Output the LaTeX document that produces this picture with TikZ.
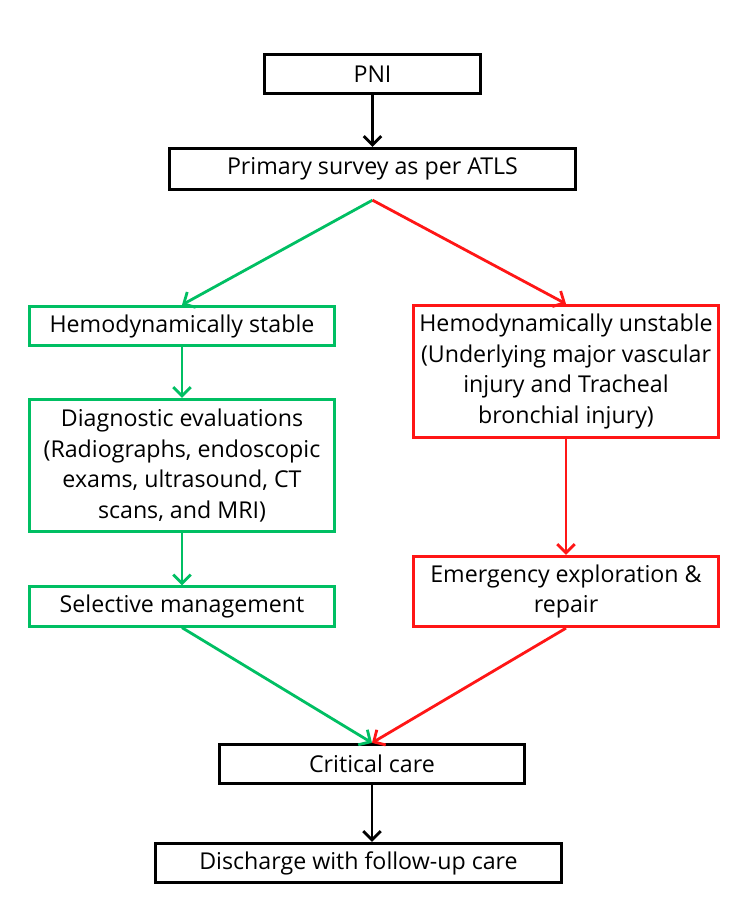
\documentclass[tikz,border=0pt]{standalone}
\usepackage{fontspec}
\setmainfont{Open Sans}
\usetikzlibrary{arrows.meta}
\definecolor{stablegreen}{HTML}{00BF63}
\definecolor{unstablered}{HTML}{FF1616}

\begin{document}
\begin{tikzpicture}[x=0.02cm, y=-0.02cm, font=\fontsize{13.2}{17.4}\selectfont,
    box/.style={draw, line width=1.6pt, align=center, inner sep=2pt, minimum width=6.11cm, minimum height=0.79cm},
    greenbox/.style={box, draw=stablegreen},
    redbox/.style={box, draw=unstablered},
    flow/.style={line width=1.6pt, -{Straight Barb[length=5pt,width=10pt]}}]
  \useasboundingbox (0,0) rectangle (750,923);

  % --- Top: injury and primary survey ---
  \node[box, minimum width=4.33cm] (pni) at (372.5,74) {PNI};
  \node[box, minimum width=8.13cm, minimum height=0.83cm] (survey) at (372.5,169) {Primary survey as per ATLS};
  \coordinate (fork) at ([yshift=-0.18cm]survey.south);
  \draw[flow] (pni) -- (survey);

  % --- Left branch (stable) ---
  \node[greenbox] (stable) at (182,326) {Hemodynamically stable};
  \node[greenbox, minimum height=2.65cm] (diag) at (182,465.5) {Diagnostic evaluations\\(Radiographs, endoscopic\\exams, ultrasound, CT\\scans, and MRI)};
  \node[greenbox] (select) at (182,606.5) {Selective management};

  \draw[flow, stablegreen] (fork) -- (stable.north);
  \draw[flow, stablegreen] (stable) -- (diag);
  \draw[flow, stablegreen] (diag) -- (select);

  % --- Right branch (unstable) ---
  \node[redbox, minimum height=2.65cm] (unstable) at (566,371.5) {Hemodynamically unstable\\(Underlying major vascular\\injury and Tracheal\\bronchial injury)};
  \node[redbox, minimum height=1.41cm] (emerg) at (566,591.5) {Emergency exploration \&\\repair};

  \draw[flow, unstablered] (fork) -- (unstable.north);
  \draw[flow, unstablered] (unstable) -- (emerg);

  % --- Bottom: both branches join ---
  \node[box] (critical) at (372,764) {Critical care};
  \node[box, minimum width=8.13cm] (discharge) at (358.5,863) {Discharge with follow-up care};

  \draw[flow, stablegreen] (select.south) -- (critical.north);
  \draw[flow, unstablered] (emerg.south) -- (critical.north);
  \draw[flow] (critical.south) -- (critical.south |- discharge.north);
\end{tikzpicture}
\end{document}
